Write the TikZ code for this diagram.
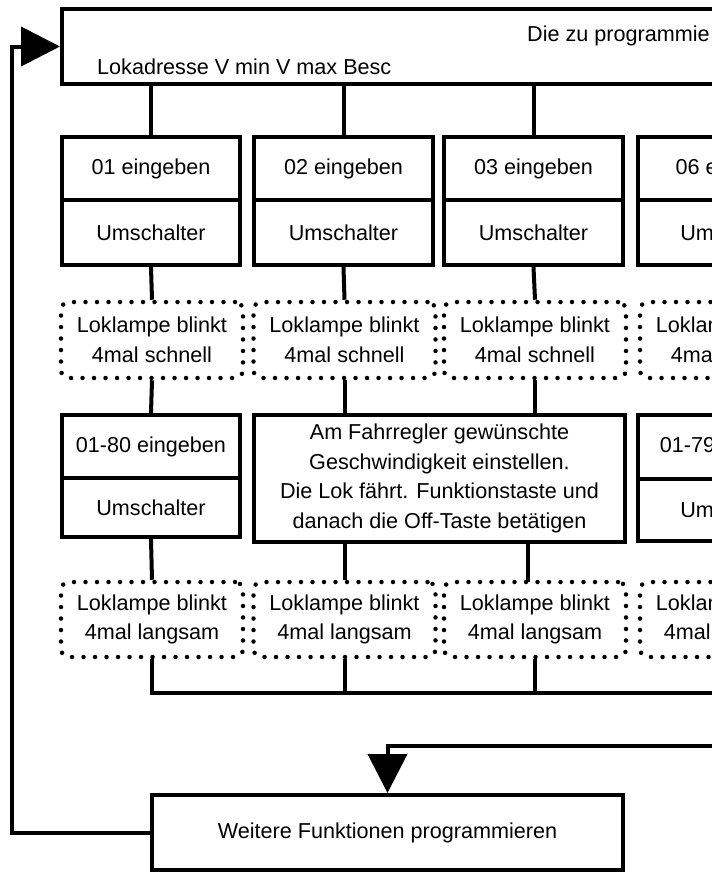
\documentclass[tikz,border=0pt]{standalone}
\usepackage{fontspec}
\setmainfont{Liberation Sans}
\usetikzlibrary{arrows.meta}

\tikzset{
  kasten/.style={draw, line width=4pt, inner sep=0pt, align=center},
  blink/.style={draw, line width=4.5pt, dash pattern=on 0pt off 11.5pt, line cap=round,
    rounded corners=8pt, inner sep=0pt, minimum width=182pt, minimum height=76pt, align=center},
  linie/.style={line width=4pt},
  pfeil/.style={line width=4pt, -{Triangle[length=39pt,width=39pt]}},
}

\begin{document}
\begin{tikzpicture}[x=1pt,y=-1pt, every node/.append style={font=\fontsize{21.6}{29.5}\selectfont}]
    \useasboundingbox (0,0) rectangle (712,879);
    \clip (0,0) rectangle (712,879);

    % Kopfzeile
    \node[kasten, minimum width=938pt, minimum height=75pt] (kopf) at (531,46.5) {};
    \node[anchor=west, inner sep=0pt] (kopfa) at (527,36) {Die zu programmie};
    \node[anchor=west, inner sep=0pt] (kopfb) at (97,67) {Lokadresse V min V max Besc};

    % erste Reihe
    \foreach \nr/\xpos/\breite/\cv in {1/151/178/01, 2/343.5/179/02, 3/533.5/179/03, 4/735/194/06} {
      \node[kasten, minimum width=\breite pt, minimum height=63pt] (e\nr) at (\xpos,168.5) {\cv\ eingeben};
      \node[kasten, minimum width=\breite pt, minimum height=65pt] (u\nr) at (\xpos,232.5) {Umschalter};
      \draw[linie] (kopf.south -| e\nr.north) -- (e\nr.north);
    }
    \foreach \nr/\xpos in {1/152, 2/344.5, 3/535, 4/731} {
      \node[blink] (b\nr) at (\xpos,340) {Loklampe blinkt\\4mal schnell};
      \node[blink, minimum height=75pt] (l\nr) at (\xpos,619.5) {Loklampe blinkt\\4mal langsam};
      \draw[linie] (u\nr.south) -- (b\nr.north);
    }

    % zweite Reihe
    \node[kasten, minimum width=178pt, minimum height=63pt] (f1) at (151,446.5) {01-80 eingeben};
    \node[kasten, minimum width=178pt, minimum height=59pt] (v1) at (151,507.5) {Umschalter};
    \node[kasten, minimum width=371pt, minimum height=127pt] (gross) at (439.5,478.5)
      {Am Fahrregler gewünschte\\Geschwindigkeit einstellen.\\Die Lok fährt. Funktionstaste und\\danach die Off-Taste betätigen};
    \node[kasten, minimum width=194pt, minimum height=64pt] (f4) at (735,447) {01-79 eingeben};
    \node[kasten, minimum width=194pt, minimum height=62pt] (v4) at (735,510) {Umschalter};

    \draw[linie] (b1.south) -- (f1.north);
    \draw[linie] (b2.south) -- (b2.south |- gross.north);
    \draw[linie] (b3.south) -- (b3.south |- gross.north);
    \draw[linie] (b4.south) -- (f4.north);
    \draw[linie] (v1.south) -- (l1.north);
    \draw[linie] (gross.south -| l2.north) -- (l2.north);
    \draw[linie] (gross.south -| 528,0) -- (528,582);
    \draw[linie] (v4.south) -- (l4.north);

    % Sammelleitung
    \coordinate (bus) at (740,693);
    \draw[linie] (l1.south) |- (bus);
    \draw[linie] (l2.south) -- (l2.south |- bus);
    \draw[linie] (l3.south) -- (l3.south |- bus);

    % Abschluss
    \node[kasten, minimum width=471pt, minimum height=75pt] (weiter) at (387.5,832.5) {Weitere Funktionen programmieren};
    \coordinate (rueck) at (740,746);
    \coordinate (links) at (12,0);
    \draw[pfeil] (rueck) -| (weiter.north);
    \draw[pfeil] (weiter.west) -| (links |- kopf.west) -- (kopf.west);
\end{tikzpicture}
\end{document}
